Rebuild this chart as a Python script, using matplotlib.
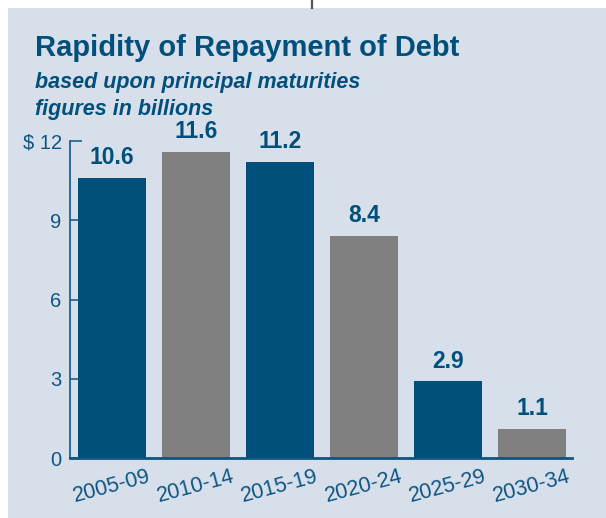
import numpy as np
import matplotlib.pyplot as plt
from matplotlib.patches import Rectangle
from matplotlib.lines import Line2D
from matplotlib import font_manager

# maturities by five-year period, in billions of dollars
periods = ["2005-09", "2010-14", "2015-19", "2020-24", "2025-29", "2030-34"]
amounts = [10.6, 11.6, 11.2, 8.4, 2.9, 1.1]
y_ticks = [0, 3, 6, 9, 12]
y_tick_labels = ["0", "3", "6", "9", "$ 12"]

navy = "#00507b"
grey = "#808080"
text_blue = "#0e5682"
panel_bg = "#d7dfeb"

names = {f.name for f in font_manager.fontManager.ttflist}
narrow = "Liberation Sans Narrow" if "Liberation Sans Narrow" in names else "Liberation Sans"
plt.rcParams["font.family"] = ["Liberation Sans", "DejaVu Sans"]

W, H = 606, 518
fig = plt.figure(figsize=(W / 100, H / 100), dpi=100)
fig.patch.set_facecolor("white")

# shaded panel behind everything
fig.add_artist(Rectangle((8 / W, 0), 598 / W, 510 / H, transform=fig.transFigure,
                         facecolor=panel_bg, edgecolor="none", zorder=0))
fig.add_artist(Line2D([312 / W, 312 / W], [1, 1 - 8 / H], transform=fig.transFigure,
                      color="#555555", linewidth=1.6, zorder=1))

fig.text(35 / W, 1 - 56 / H, "Rapidity of Repayment of Debt", fontsize=21,
         fontweight="bold", color=navy, va="baseline")
fig.text(35 / W, 1 - 88 / H, "based upon principal maturities", fontsize=15.5,
         fontweight="bold", style="italic", color=navy, va="baseline")
fig.text(35 / W, 1 - 115 / H, "figures in billions", fontsize=15.5,
         fontweight="bold", style="italic", color=navy, va="baseline")

ax = fig.add_axes([70 / W, (H - 458) / H, 502 / W, 317 / H])
ax.set_facecolor("none")

x = np.arange(len(periods))
colors = [navy if i % 2 == 0 else grey for i in range(len(periods))]
bars = ax.bar(x, amounts, width=0.81, color=colors, zorder=3)

for xi, v in zip(x, amounts):
    ax.text(xi, v + 0.33, f"{v:.1f}", ha="center", va="bottom", fontsize=16.5,
            fontweight="bold", color=navy, family=[narrow, "DejaVu Sans"])

ax.set_xlim(-0.5, 5.476)
ax.set_ylim(0, 12)
ax.set_yticks(y_ticks)
ax.set_yticklabels(y_tick_labels)
ax.set_xticks(x)
ax.set_xticklabels(periods, rotation=15, ha="center")

ax.tick_params(axis="y", direction="in", length=8.6, width=1.1, color=text_blue,
               labelsize=14.5, labelcolor=text_blue, pad=6)
ax.tick_params(axis="x", length=0, labelsize=15.5, labelcolor=text_blue, pad=6)

for side in ["top", "right"]:
    ax.spines[side].set_visible(False)
ax.spines["left"].set_color(text_blue)
ax.spines["left"].set_linewidth(1.2)
ax.spines["bottom"].set_color(text_blue)
ax.spines["bottom"].set_linewidth(2)
ax.spines["bottom"].set_zorder(4)

fig.savefig("out.png", dpi=100)
